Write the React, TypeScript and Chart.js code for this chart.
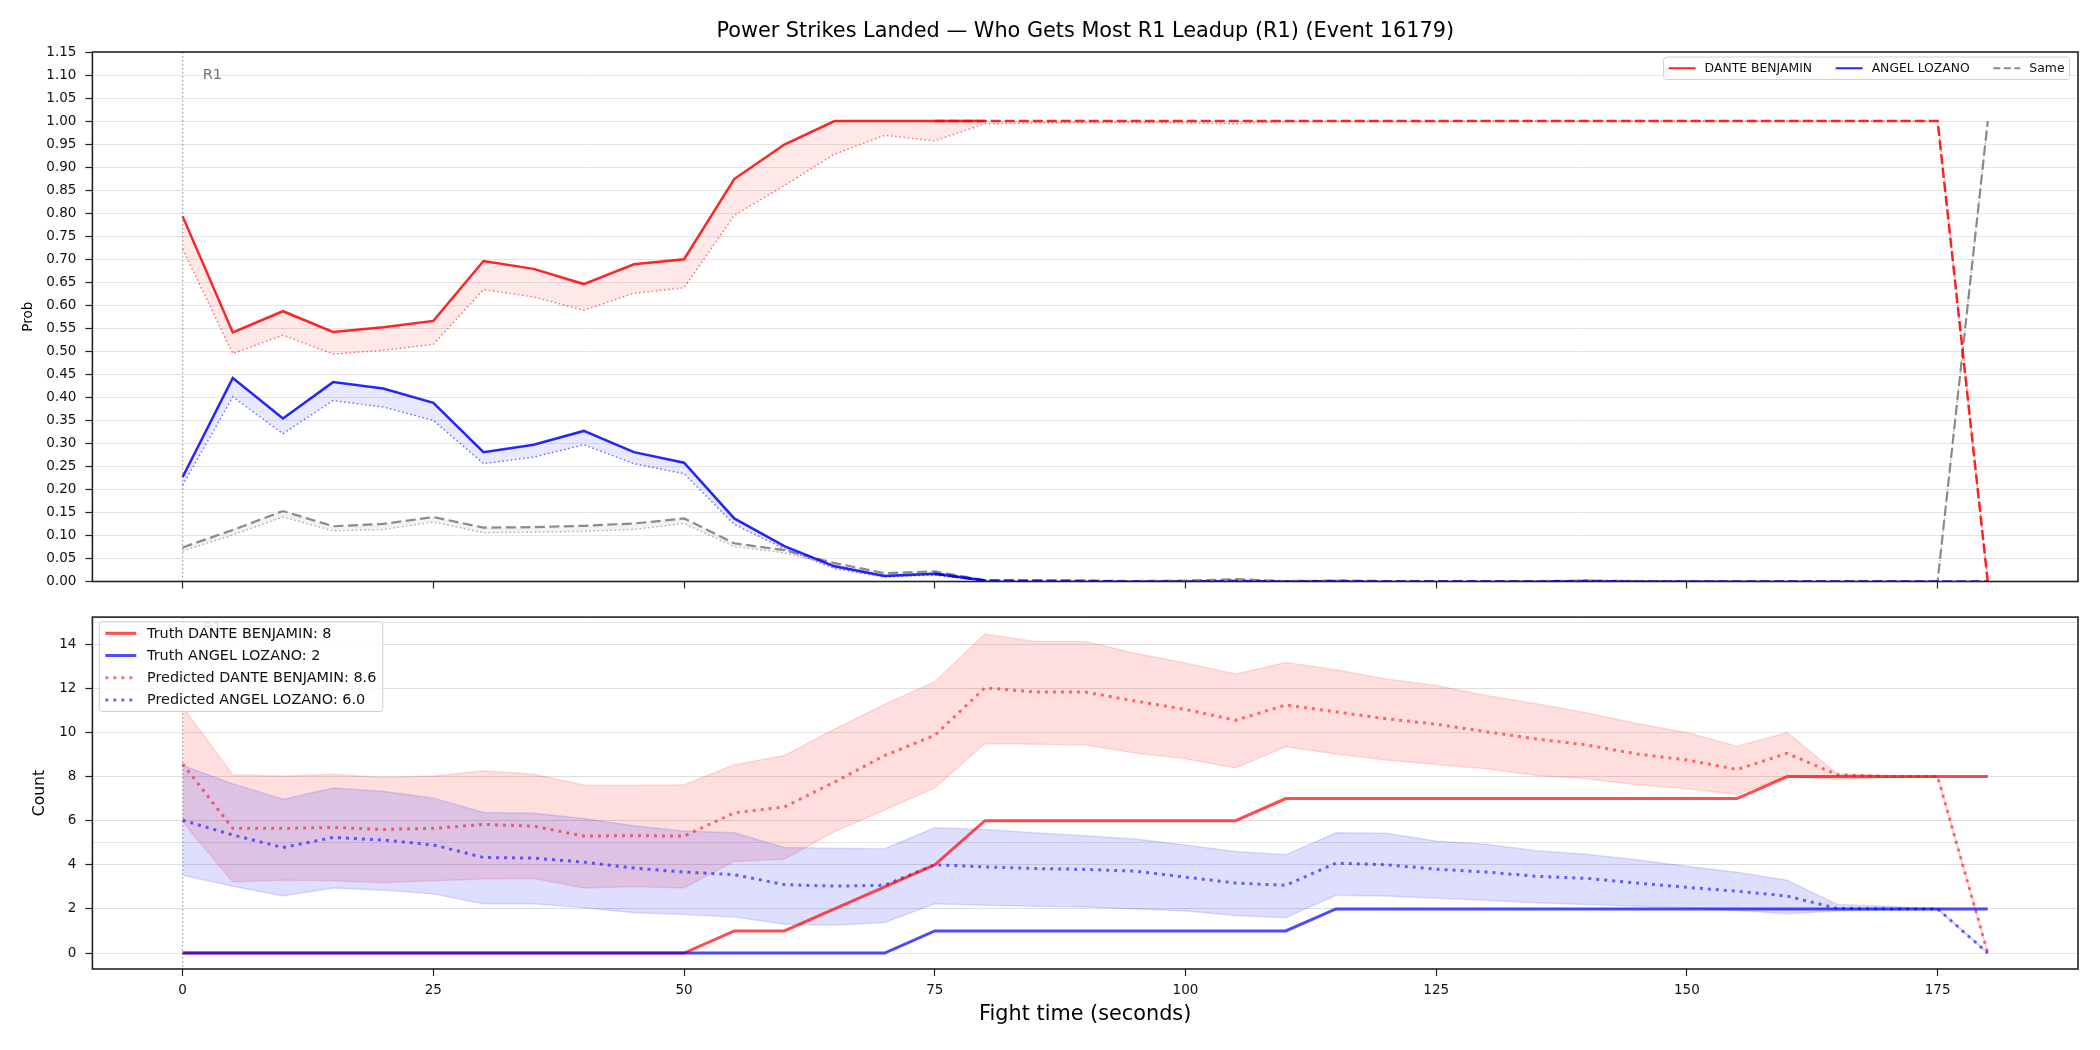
import React, { useEffect, useRef } from "react";
import { Chart, registerables } from "chart.js";

Chart.register(...registerables);

// ---------------- DATA ----------------
const TIME = [0, 5, 10, 15, 20, 25, 30, 35, 40, 45, 50, 55, 60, 65, 70, 75, 80, 85, 90, 95, 100, 105, 110, 115, 120, 125, 130, 135, 140, 145, 150, 155, 160, 165, 170, 175, 180];

const FIGHTERS = ["DANTE BENJAMIN", "ANGEL LOZANO"];
const SAME_LABEL = "Same";
const TITLE = "Power Strikes Landed \u2014 Who Gets Most R1 Leadup (R1) (Event 16179)";
const ROUND_LABEL = "R1";

// Top panel: probabilities
const RED_PROB = [0.793, 0.541, 0.587, 0.542, 0.552, 0.566, 0.696, 0.679, 0.646, 0.689, 0.700, 0.874, 0.949, 1.0, 1.0, 1.0, 1.0, 1.0, 1.0, 1.0, 1.0, 1.0, 1.0, 1.0, 1.0, 1.0, 1.0, 1.0, 1.0, 1.0, 1.0, 1.0, 1.0, 1.0, 1.0, 1.0, 0.0];
const RED_PROB_LOW = [0.722, 0.495, 0.535, 0.494, 0.502, 0.515, 0.634, 0.618, 0.589, 0.626, 0.638, 0.795, 0.860, 0.928, 0.969, 0.957, 0.994, 0.996, 0.997, 0.997, 0.996, 0.994, 0.999, 0.999, 0.999, 0.999, 1.0, 1.0, 1.0, 1.0, 1.0, 1.0, 1.0, 1.0, 1.0, 1.0, 0.0];
const BLUE_PROB = [0.227, 0.442, 0.354, 0.433, 0.419, 0.388, 0.281, 0.297, 0.327, 0.281, 0.258, 0.137, 0.077, 0.033, 0.012, 0.017, 0.002, 0.001, 0.001, 0.0, 0.0, 0.001, 0.0, 0.001, 0.0, 0.0, 0.0, 0.0, 0.001, 0.0, 0.0, 0.0, 0.0, 0.0, 0.0, 0.0, 0.0];
const BLUE_PROB_LOW = [0.209, 0.401, 0.321, 0.393, 0.379, 0.350, 0.256, 0.270, 0.297, 0.256, 0.234, 0.124, 0.071, 0.028, 0.010, 0.014, 0.001, 0.0, 0.0, 0.0, 0.0, 0.0, 0.0, 0.0, 0.0, 0.0, 0.0, 0.0, 0.0, 0.0, 0.0, 0.0, 0.0, 0.0, 0.0, 0.0, 0.0];
const SAME_PROB = [0.074, 0.112, 0.153, 0.120, 0.125, 0.140, 0.117, 0.118, 0.121, 0.126, 0.137, 0.083, 0.068, 0.040, 0.018, 0.022, 0.003, 0.003, 0.002, 0.001, 0.002, 0.005, 0.001, 0.002, 0.001, 0.001, 0.001, 0.001, 0.002, 0.001, 0.001, 0.0, 0.0, 0.0, 0.0, 0.0, 1.0];
const SAME_PROB_LOW = [0.066, 0.101, 0.140, 0.110, 0.113, 0.129, 0.106, 0.107, 0.109, 0.113, 0.126, 0.076, 0.062, 0.035, 0.014, 0.019, 0.001, 0.002, 0.001, 0.001, 0.001, 0.003, 0.0, 0.001, 0.0, 0.0, 0.0, 0.0, 0.001, 0.0, 0.0, 0.0, 0.0, 0.0, 0.0, 0.0, 1.0];

// Bottom panel: counts
const TRUTH_RED = [0, 0, 0, 0, 0, 0, 0, 0, 0, 0, 0, 1, 1, 2, 3, 4, 6, 6, 6, 6, 6, 6, 7, 7, 7, 7, 7, 7, 7, 7, 7, 7, 8, 8, 8, 8, 8];
const TRUTH_BLUE = [0, 0, 0, 0, 0, 0, 0, 0, 0, 0, 0, 0, 0, 0, 0, 1, 1, 1, 1, 1, 1, 1, 1, 2, 2, 2, 2, 2, 2, 2, 2, 2, 2, 2, 2, 2, 2];
const PRED_RED = [8.57, 5.65, 5.65, 5.69, 5.60, 5.65, 5.83, 5.75, 5.30, 5.32, 5.30, 6.35, 6.62, 7.75, 8.95, 9.87, 12.02, 11.83, 11.83, 11.42, 11.04, 10.55, 11.24, 10.93, 10.62, 10.37, 10.03, 9.70, 9.43, 9.02, 8.75, 8.32, 9.05, 8.08, 8.00, 8.00, 0];
const PRED_RED_HIGH = [11.15, 8.08, 8.02, 8.10, 7.96, 8.02, 8.26, 8.10, 7.61, 7.60, 7.63, 8.53, 8.95, 10.15, 11.27, 12.30, 14.46, 14.12, 14.12, 13.59, 13.14, 12.65, 13.17, 12.84, 12.42, 12.12, 11.67, 11.30, 10.89, 10.40, 9.99, 9.37, 9.99, 8.12, 8.04, 8.00, 0];
const PRED_RED_LOW = [5.95, 3.22, 3.30, 3.27, 3.18, 3.27, 3.35, 3.38, 2.95, 3.00, 2.95, 4.15, 4.25, 5.50, 6.48, 7.48, 9.50, 9.46, 9.43, 9.07, 8.80, 8.39, 9.35, 9.02, 8.75, 8.54, 8.35, 8.05, 7.90, 7.63, 7.45, 7.20, 8.00, 7.86, 7.96, 8.00, 0];
const PRED_BLUE = [6.02, 5.35, 4.78, 5.24, 5.12, 4.90, 4.33, 4.30, 4.12, 3.85, 3.67, 3.55, 3.10, 3.03, 3.07, 4.00, 3.90, 3.83, 3.79, 3.71, 3.44, 3.17, 3.07, 4.07, 4.00, 3.80, 3.67, 3.48, 3.38, 3.17, 2.98, 2.80, 2.58, 2.02, 2.00, 2.00, 0];
const PRED_BLUE_HIGH = [8.50, 7.67, 6.97, 7.48, 7.33, 7.03, 6.37, 6.33, 6.10, 5.77, 5.53, 5.45, 4.78, 4.75, 4.73, 5.68, 5.60, 5.45, 5.32, 5.17, 4.90, 4.60, 4.45, 5.45, 5.43, 5.08, 4.93, 4.63, 4.48, 4.23, 3.93, 3.66, 3.30, 2.20, 2.12, 2.00, 0];
const PRED_BLUE_LOW = [3.52, 3.03, 2.58, 2.95, 2.85, 2.68, 2.23, 2.23, 2.05, 1.83, 1.75, 1.63, 1.30, 1.26, 1.38, 2.23, 2.17, 2.12, 2.08, 2.00, 1.90, 1.70, 1.60, 2.62, 2.58, 2.48, 2.39, 2.28, 2.20, 2.12, 2.05, 1.93, 1.78, 1.90, 1.95, 2.00, 0];

// ---------------- HELPERS ----------------
const FONT = "'DejaVu Sans', sans-serif";

const pts = (ys: number[], from = -Infinity, to = Infinity) =>
  TIME.map((t, i) => ({ x: t, y: ys[i] })).filter((p) => p.x >= from && p.x <= to);

type LegendEntry = { label: string; color: string; width: number; dash: number[] };

function roundRectPath(ctx: CanvasRenderingContext2D, x: number, y: number, w: number, h: number, r: number) {
  ctx.beginPath();
  ctx.moveTo(x + r, y);
  ctx.lineTo(x + w - r, y);
  ctx.arcTo(x + w, y, x + w, y + r, r);
  ctx.lineTo(x + w, y + h - r);
  ctx.arcTo(x + w, y + h, x + w - r, y + h, r);
  ctx.lineTo(x + r, y + h);
  ctx.arcTo(x, y + h, x, y + h - r, r);
  ctx.lineTo(x, y + r);
  ctx.arcTo(x, y, x + r, y, r);
  ctx.closePath();
}

function drawBox(ctx: CanvasRenderingContext2D, x: number, y: number, w: number, h: number) {
  ctx.save();
  roundRectPath(ctx, x, y, w, h, 3);
  ctx.fillStyle = "rgba(255,255,255,0.8)";
  ctx.fill();
  ctx.strokeStyle = "#d0d0d0";
  ctx.lineWidth = 1;
  ctx.stroke();
  ctx.restore();
}

function drawHandle(ctx: CanvasRenderingContext2D, e: LegendEntry, x1: number, x2: number, y: number) {
  ctx.save();
  ctx.strokeStyle = e.color;
  ctx.lineWidth = e.width;
  ctx.setLineDash(e.dash);
  ctx.beginPath();
  ctx.moveTo(x1, y);
  ctx.lineTo(x2, y);
  ctx.stroke();
  ctx.restore();
}

function drawHorizontalLegend(ctx: CanvasRenderingContext2D, entries: LegendEntry[], right: number, top: number, height: number, size: number) {
  ctx.save();
  ctx.font = `${size}px ${FONT}`;
  const pad = 5, handle = 27, gap = 9, col = 23.5;
  const widths = entries.map((e) => ctx.measureText(e.label).width);
  const total = pad * 2 + widths.reduce((s, w) => s + w + handle + gap, 0) + col * (entries.length - 1);
  const left = right - total;
  drawBox(ctx, left, top, total, height);
  const cy = top + height / 2;
  let x = left + pad;
  entries.forEach((e, i) => {
    drawHandle(ctx, e, x, x + handle, cy);
    ctx.fillStyle = "#111";
    ctx.textBaseline = "middle";
    ctx.textAlign = "left";
    ctx.fillText(e.label, x + handle + gap, cy + 0.5);
    x += handle + gap + widths[i] + col;
  });
  ctx.restore();
}

function drawVerticalLegend(ctx: CanvasRenderingContext2D, entries: LegendEntry[], left: number, top: number, size: number) {
  ctx.save();
  ctx.font = `${size}px ${FONT}`;
  const pad = 6, handle = 31, gap = 10.7, row = 22.2, firstRow = 11.6;
  const widths = entries.map((e) => ctx.measureText(e.label).width);
  const w = pad + handle + gap + Math.max(...widths) + 6.5;
  const h = firstRow * 2 + row * (entries.length - 1);
  drawBox(ctx, left, top, w, h);
  entries.forEach((e, i) => {
    const cy = top + firstRow + i * row;
    drawHandle(ctx, e, left + pad, left + pad + handle, cy);
    ctx.fillStyle = "#111";
    ctx.textBaseline = "middle";
    ctx.textAlign = "left";
    ctx.fillText(e.label, left + pad + handle + gap, cy + 0.5);
  });
  ctx.restore();
}

type ExtraCfg = {
  title?: string;
  titleY?: number;
  yTitle: string;
  yTitleX: number;
  yTitleSize: number;
  xTitle?: string;
  xTitleY?: number;
  r1Value: number;
  legend: (ctx: CanvasRenderingContext2D, chart: any) => void;
};

function makeExtras(cfg: ExtraCfg) {
  return {
    id: "extras",
    beforeDatasetsDraw(chart: any) {
      const { ctx, chartArea: a, scales } = chart;
      const x0 = scales.x.getPixelForValue(0);
      ctx.save();
      ctx.strokeStyle = "rgba(80,80,80,0.7)";
      ctx.lineWidth = 1;
      ctx.setLineDash([1.5, 2.5]);
      ctx.beginPath();
      ctx.moveTo(x0, a.top);
      ctx.lineTo(x0, a.bottom);
      ctx.stroke();
      ctx.restore();
    },
    afterDatasetsDraw(chart: any) {
      const { ctx, scales } = chart;
      ctx.save();
      ctx.font = `14.6px ${FONT}`;
      ctx.fillStyle = "rgba(90,90,90,0.85)";
      ctx.textAlign = "left";
      ctx.textBaseline = "middle";
      ctx.fillText(ROUND_LABEL, scales.x.getPixelForValue(2), scales.y.getPixelForValue(cfg.r1Value));
      ctx.restore();
    },
    afterDraw(chart: any) {
      const { ctx, chartArea: a } = chart;
      ctx.save();
      ctx.strokeStyle = "#222";
      ctx.lineWidth = 1.6;
      ctx.strokeRect(a.left, a.top, a.right - a.left, a.bottom - a.top);
      ctx.fillStyle = "#000";
      const cx = (a.left + a.right) / 2;
      if (cfg.title) {
        ctx.font = `20.8px ${FONT}`;
        ctx.textAlign = "center";
        ctx.textBaseline = "middle";
        ctx.fillText(cfg.title, cx, cfg.titleY!);
      }
      if (cfg.xTitle) {
        ctx.font = `20.8px ${FONT}`;
        ctx.textAlign = "center";
        ctx.textBaseline = "middle";
        ctx.fillText(cfg.xTitle, cx, cfg.xTitleY!);
      }
      ctx.save();
      ctx.translate(cfg.yTitleX, (a.top + a.bottom) / 2);
      ctx.rotate(-Math.PI / 2);
      ctx.font = `${cfg.yTitleSize}px ${FONT}`;
      ctx.textAlign = "center";
      ctx.textBaseline = "middle";
      ctx.fillText(cfg.yTitle, 0, 0);
      ctx.restore();
      ctx.restore();
      cfg.legend(ctx, chart);
    },
  };
}

const line = (data: any[], color: string, width: number, dash: number[] = [], extra: any = {}) => ({
  data,
  borderColor: color,
  borderWidth: width,
  borderDash: dash,
  pointRadius: 0,
  pointHoverRadius: 0,
  tension: 0,
  fill: false,
  ...extra,
});

const RED = "rgba(255,0,0,0.85)";
const BLUE = "rgba(0,0,255,0.85)";
const GRAY = "rgba(128,128,128,0.9)";

export default function App() {
  const topRef = useRef<HTMLCanvasElement>(null);
  const botRef = useRef<HTMLCanvasElement>(null);

  useEffect(() => {
    Chart.defaults.font.family = FONT;
    const tickFont = { family: FONT, size: 13.5 };

    // ---------- TOP CHART ----------
    const topDatasets = [
      line(pts(RED_PROB, 0, 80), RED, 2.5),
      line(pts(RED_PROB, 75, 180), RED, 2.5, [10, 4]),
      line(pts(BLUE_PROB, 0, 80), BLUE, 2.5),
      line(pts(BLUE_PROB, 75, 180), BLUE, 2.5, [10, 4]),
      line(pts(SAME_PROB), GRAY, 2.2, [10, 4.5]),
      line(pts(RED_PROB_LOW), "rgba(255,0,0,0.55)", 1.4, [1.6, 2.6], { fill: 8, backgroundColor: "rgba(255,0,0,0.09)" }),
      line(pts(BLUE_PROB_LOW), "rgba(0,0,255,0.55)", 1.4, [1.6, 2.6], { fill: 9, backgroundColor: "rgba(0,0,255,0.09)" }),
      line(pts(SAME_PROB_LOW), "rgba(128,128,128,0.6)", 1.4, [1.6, 2.6], { fill: 4, backgroundColor: "rgba(128,128,128,0.1)" }),
      line(pts(RED_PROB), "rgba(0,0,0,0)", 0),
      line(pts(BLUE_PROB), "rgba(0,0,0,0)", 0),
    ];

    const topLegend: LegendEntry[] = [
      { label: FIGHTERS[0], color: RED, width: 2, dash: [] },
      { label: FIGHTERS[1], color: BLUE, width: 2, dash: [] },
      { label: SAME_LABEL, color: GRAY, width: 2, dash: [7, 3.5] },
    ];

    const top = new Chart(topRef.current!, {
      type: "line",
      data: { datasets: topDatasets as any },
      options: {
        responsive: false,
        animation: false,
        devicePixelRatio: 1,
        layout: { padding: { top: 52, right: 22, bottom: 0, left: 0 } },
        plugins: { legend: { display: false }, title: { display: false }, tooltip: { enabled: false } },
        events: [],
        scales: {
          x: {
            type: "linear",
            min: -9,
            max: 189,
            ticks: { stepSize: 25, includeBounds: false, display: false },
            grid: { display: true, drawOnChartArea: false, drawTicks: true, tickLength: 7, tickColor: "#222", tickWidth: 1.2 },
            border: { display: false },
            afterFit: (s: any) => { s.height = 18.5; },
          },
          y: {
            type: "linear",
            min: 0,
            max: 1.15,
            ticks: {
              stepSize: 0.05,
              includeBounds: false,
              font: tickFont,
              color: "#111",
              padding: 9,
              callback: (v: any) => Number(v).toFixed(2),
            },
            grid: { color: "#e5e5e5", lineWidth: 1, tickColor: "#222", tickLength: 7, tickWidth: 1.2 },
            border: { display: false },
            afterFit: (s: any) => { s.width = 92.4; },
          },
        },
      },
      plugins: [
        makeExtras({
          title: TITLE,
          titleY: 31.7,
          yTitle: "Prob",
          yTitleX: 28,
          yTitleSize: 13.5,
          r1Value: 1.1,
          legend: (ctx) => drawHorizontalLegend(ctx, topLegend, 2069.5, 57, 22.5, 12.4),
        }),
      ],
    } as any);

    // ---------- BOTTOM CHART ----------
    const botDatasets = [
      line(pts(TRUTH_BLUE), "rgba(0,0,255,0.7)", 3),
      line(pts(TRUTH_RED), "rgba(255,0,0,0.7)", 3),
      line(pts(PRED_BLUE), "rgba(0,0,255,0.58)", 3, [3, 5]),
      line(pts(PRED_RED), "rgba(255,0,0,0.55)", 3, [3, 5]),
      line(pts(PRED_BLUE_HIGH), "rgba(0,0,255,0.12)", 1.5),
      line(pts(PRED_BLUE_LOW), "rgba(0,0,255,0.12)", 1.5, [], { fill: 4, backgroundColor: "rgba(0,0,255,0.13)" }),
      line(pts(PRED_RED_HIGH), "rgba(255,0,0,0.12)", 1.5),
      line(pts(PRED_RED_LOW), "rgba(255,0,0,0.12)", 1.5, [], { fill: 6, backgroundColor: "rgba(255,0,0,0.13)" }),
    ];

    const last = TIME.length - 1;
    const botLegend: LegendEntry[] = [
      { label: `Truth ${FIGHTERS[0]}: ${TRUTH_RED[last]}`, color: "rgba(255,0,0,0.7)", width: 3, dash: [] },
      { label: `Truth ${FIGHTERS[1]}: ${TRUTH_BLUE[last]}`, color: "rgba(0,0,255,0.7)", width: 3, dash: [] },
      { label: `Predicted ${FIGHTERS[0]}: ${PRED_RED[0].toFixed(1)}`, color: "rgba(255,0,0,0.55)", width: 3, dash: [3, 5] },
      { label: `Predicted ${FIGHTERS[1]}: ${PRED_BLUE[0].toFixed(1)}`, color: "rgba(0,0,255,0.58)", width: 3, dash: [3, 5] },
    ];

    const bot = new Chart(botRef.current!, {
      type: "line",
      data: { datasets: botDatasets as any },
      options: {
        responsive: false,
        animation: false,
        devicePixelRatio: 1,
        layout: { padding: { top: 14, right: 22, bottom: 0, left: 0 } },
        plugins: { legend: { display: false }, title: { display: false }, tooltip: { enabled: false } },
        events: [],
        scales: {
          x: {
            type: "linear",
            min: -9,
            max: 189,
            ticks: { stepSize: 25, includeBounds: false, font: tickFont, color: "#111", padding: 6, maxRotation: 0 },
            grid: { display: true, drawOnChartArea: false, drawTicks: true, tickLength: 7, tickColor: "#222", tickWidth: 1.2 },
            border: { display: false },
            afterFit: (s: any) => { s.height = 81; },
          },
          y: {
            type: "linear",
            min: -0.725,
            max: 15.225,
            ticks: { stepSize: 2, includeBounds: false, font: tickFont, color: "#111", padding: 9 },
            grid: { color: "#dedede", lineWidth: 1, tickColor: "#222", tickLength: 7, tickWidth: 1.2 },
            border: { display: false },
            afterFit: (s: any) => { s.width = 92.4; },
          },
          y2: {
            type: "linear",
            position: "right",
            min: -0.725,
            max: 15.225,
            ticks: { stepSize: 5, includeBounds: false, display: false },
            grid: { color: "#e6e6e6", lineWidth: 1, drawTicks: false },
            border: { display: false },
            afterFit: (s: any) => { s.width = 0; },
          },
        },
      },
      plugins: [
        makeExtras({
          yTitle: "Count",
          yTitleX: 40,
          yTitleSize: 15.6,
          xTitle: "Fight time (seconds)",
          xTitleY: 415,
          r1Value: 14.7,
          legend: (ctx) => drawVerticalLegend(ctx, botLegend, 99.3, 21.7, 14.4),
        }),
      ],
    } as any);

    return () => {
      top.destroy();
      bot.destroy();
    };
  }, []);

  return (
    <div style={{ position: "absolute", left: 0, top: 0, width: 2100, height: 1050, background: "#fff", overflow: "hidden" }}>
      <canvas ref={topRef} width={2100} height={600} style={{ position: "absolute", left: 0, top: 0, width: 2100, height: 600 }} />
      <canvas ref={botRef} width={2100} height={450} style={{ position: "absolute", left: 0, top: 600, width: 2100, height: 450 }} />
    </div>
  );
}
